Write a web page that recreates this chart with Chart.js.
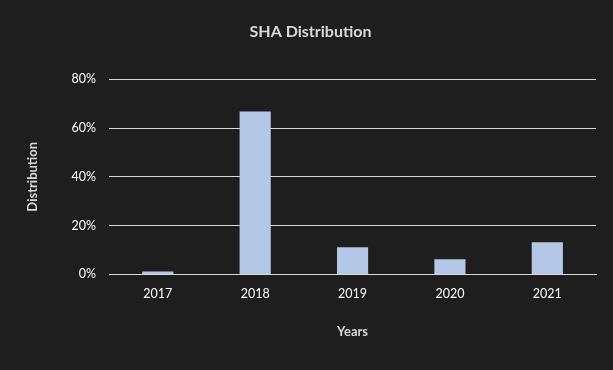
<!DOCTYPE html>
<html>
<head>
<meta charset="utf-8">
<script src="https://cdn.jsdelivr.net/npm/chart.js@4/dist/chart.umd.min.js"></script>
<style>
html,body{margin:0;padding:0;background:#1e1e1e;}
canvas{display:block;}
</style>
</head>
<body>
<canvas id="c" width="613" height="370"></canvas>
<script>
const years = ['2017', '2018', '2019', '2020', '2021'];
const distribution = [1.2, 66.8, 11.1, 6.2, 13.2];
const yTicks = [0, 20, 40, 60, 80];

const font = "Lato, 'Open Sans', sans-serif";
new Chart(document.getElementById('c'), {
  type: 'bar',
  data: {
    labels: years,
    datasets: [{
      label: 'Distribution',
      data: distribution,
      backgroundColor: '#b4c7e7',
      categoryPercentage: 1.0,
      barPercentage: 0.32
    }]
  },
  options: {
    responsive: false,
    animation: false,
    layout: { padding: { left: 25, right: 17, top: 22, bottom: 30 } },
    plugins: {
      legend: { display: false },
      tooltip: { enabled: false },
      title: {
        display: true,
        text: 'SHA Distribution',
        color: '#d9d9d9',
        font: { family: font, size: 16, weight: 'bold' },
        padding: { top: 0, bottom: 38 }
      }
    },
    scales: {
      x: {
        grid: { display: false, drawTicks: false },
        border: { display: true, color: '#d9d9d9', width: 1 },
        ticks: { color: '#ffffff', font: { family: font, size: 12.5 }, padding: 12 },
        title: {
          display: true, text: 'Years', color: '#d9d9d9',
          font: { family: font, size: 13, weight: 'bold' },
          padding: { top: 11, bottom: 0 }
        }
      },
      y: {
        min: 0, max: 80,
        afterBuildTicks: (s) => { s.ticks = yTicks.map(v => ({ value: v })); },
        grid: { color: '#d9d9d9', drawTicks: false, lineWidth: 1 },
        border: { display: false },
        ticks: {
          color: '#ffffff', font: { family: font, size: 12.5 }, padding: 13,
          callback: (v) => v + '%'
        },
        title: {
          display: true, text: 'Distribution', color: '#d9d9d9',
          font: { family: font, size: 13, weight: 'bold' },
          padding: { top: 0, bottom: 18 }
        }
      }
    }
  },
  plugins: [{
    id: 'bg',
    beforeDraw: (chart) => {
      const ctx = chart.ctx;
      ctx.save();
      ctx.fillStyle = '#1e1e1e';
      ctx.fillRect(0, 0, chart.width, chart.height);
      ctx.restore();
    }
  }]
});
</script>
</body>
</html>
